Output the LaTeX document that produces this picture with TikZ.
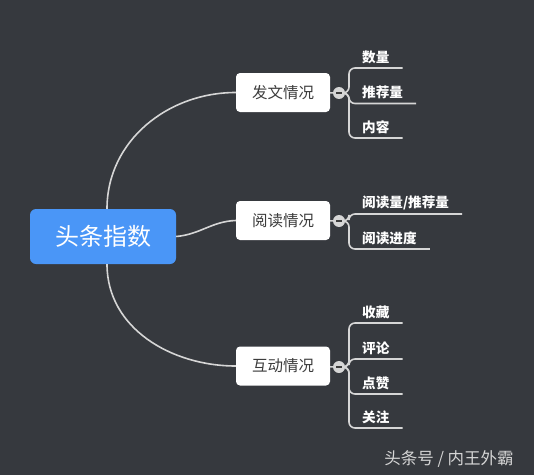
\documentclass[tikz,border=0pt]{standalone}
\usepackage{fontspec}
\setmainfont{Noto Sans CJK SC}
\usetikzlibrary{positioning}
\definecolor{bgc}{RGB}{54,57,62}
\definecolor{rootblue}{RGB}{74,150,247}
\definecolor{linec}{RGB}{214,214,214}
\definecolor{textc}{RGB}{60,60,60}
\begin{document}
\begin{tikzpicture}[
    x=1pt, y=1pt,
    root/.style={fill=rootblue, rounded corners=6pt, minimum width=146pt, minimum height=55pt, text=white, font=\fontsize{24}{28}\selectfont},
    topic/.style={fill=white, rounded corners=4pt, minimum width=94pt, minimum height=39pt, text=textc, font=\fontsize{15.5}{18}\selectfont},
    fold/.style={circle, fill=linec, minimum size=12pt, inner sep=0pt,
        path picture={\draw[textc, line width=1.3pt] ([xshift=3pt]path picture bounding box.west) -- ([xshift=-3pt]path picture bounding box.east);}},
    leaf/.style={anchor=south west, inner xsep=13pt, inner ysep=4pt, text=white, font=\fontsize{13.6}{16}\selectfont\bfseries},
    branch/.style={draw=linec, line width=1.6pt},
    bracket/.style={draw=linec, line width=1.6pt, rounded corners=6pt}
]
  \fill[bgc] (0,0) rectangle (534,475);

  \node[root] (root) at (103,238.5) {头条指数};
  \node[topic] (b1) at (283,382.5) {发文情况};
  \node[topic] (b2) at (283,254.5) {阅读情况};
  \node[topic] (b3) at (283,109) {互动情况};

  \node[fold] (c1) at (339,382) {};
  \node[fold] (c2) at (339,254) {};
  \node[fold] (c3) at (339,108) {};

  \draw[branch] ([xshift=4pt]root.north) to[out=90, in=180] (b1.west);
  \draw[branch] (root.east) to[out=5, in=182] (b2.west);
  \draw[branch] ([xshift=4pt]root.south) to[out=-90, in=180] (b3.west);
  \draw[branch] (b1) -- (c1);
  \draw[branch] (b2) -- (c2);
  \draw[branch] (b3) -- (c3);

  % leaves of each topic
  \node[leaf] (l11) at (349,407) {数量};
  \node[leaf] (l12) at (349,371.5) {推荐量};
  \node[leaf] (l13) at (349,337) {内容};
  \node[leaf] (l21) at (349,261) {阅读量/推荐量};
  \node[leaf] (l22) at (349,226) {阅读进度};
  \node[leaf] (l31) at (349,152) {收藏};
  \node[leaf] (l32) at (349,116) {评论};
  \node[leaf] (l33) at (349,81) {点赞};
  \node[leaf] (l34) at (349,47) {关注};

  \foreach \l in {l11,l12,l13}
    \draw[bracket] (c1.east) -| (\l.south west) -- (\l.south east);
  \foreach \l in {l21,l22}
    \draw[bracket] (c2.east) -| (\l.south west) -- (\l.south east);
  \foreach \l in {l31,l32,l33,l34}
    \draw[bracket] (c3.east) -| (\l.south west) -- (\l.south east);

  % watermark
  \node[text=linec, font=\fontsize{16.5}{19}\selectfont] (mark) at (449,16) {头条号 / 内王外霸};
\end{tikzpicture}
\end{document}
